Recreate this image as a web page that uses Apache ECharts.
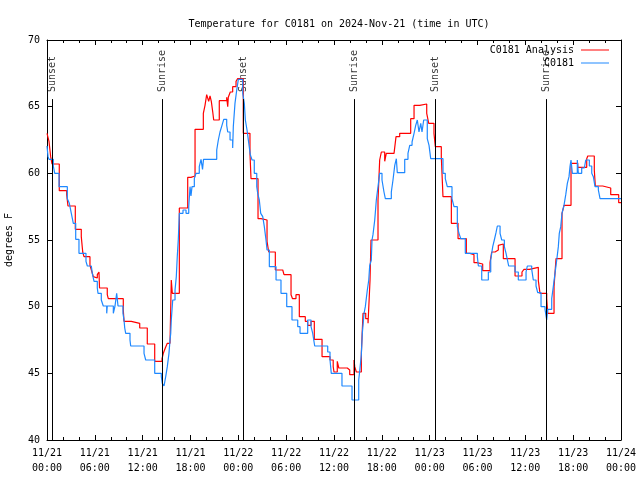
<!DOCTYPE html>
<html>
<head>
<meta charset="utf-8">
<script src="https://cdn.jsdelivr.net/npm/echarts@6/dist/echarts.min.js"></script>
<style>html,body{margin:0;padding:0;background:#fff}#c{width:640px;height:480px}</style>
</head>
<body>
<div id="c"></div>
<script>
// Time is in hours after 2024-11-21 00:00 UTC
const tickDates = ['11/21','11/21','11/21','11/21','11/22','11/22','11/22','11/22','11/23','11/23','11/23','11/23','11/24'];
const tickTimes = ['00:00','06:00','12:00','18:00','00:00','06:00','12:00','18:00','00:00','06:00','12:00','18:00','00:00'];

const sunHours = [0.66, 14.46, 24.62, 38.55, 48.67, 62.63];
const sunNames = ['Sunset','Sunrise','Sunset','Sunrise','Sunset','Sunrise'];
const sunLineTop = 65.57;

// C0181 Analysis (red)
const analysisHours = [
 0,0.25,0.46,0.63,1.54,2.47,2.63,3.55,4.30,4.48,
 4.64,5.39,5.64,5.81,5.98,6.31,6.52,6.59,7.56,7.69,
 9.57,9.66,10.57,11.63,12.58,13.51,14.43,14.59,14.84,15.09,
 15.43,15.59,15.72,16.60,17.65,18.06,18.57,19.61,19.82,20.03,
 20.28,20.45,20.61,20.79,20.91,21.61,22.54,22.67,22.74,22.99,
 23.29,23.71,23.92,24.62,25.46,25.59,26.47,26.84,27.60,27.81,
 28.64,29.57,29.73,30.61,30.80,31.23,31.65,32.40,32.70,33.12,
 33.53,34.50,35.50,35.90,36.00,36.41,36.60,37.67,37.97,38.51,
 38.60,38.80,39.43,39.64,39.98,40.27,40.52,40.64,41.52,41.73,
 41.94,42.36,42.56,43.53,43.78,44.24,45.62,46.04,46.75,47.63,
 47.88,48.54,48.71,49.46,49.60,49.67,50.72,51.56,52.60,53.06,
 53.56,53.90,54.65,55.57,55.78,56.20,56.61,56.74,57.24,58.71,
 59.58,59.83,60.50,61.63,61.84,62.68,62.81,63.60,63.85,64.60,
 64.85,65.73,66.57,67.70,67.83,68.65,68.78,69.71,70.71,71.71,
 72
];
const analysisTemps = [
 63.0,62.4,61.25,60.7,58.7,58.4,57.55,55.8,55.25,54.1,
 53.75,53.1,52.6,52.25,52.15,52.4,52.6,51.4,50.9,50.6,
 49.75,48.9,48.75,48.4,47.2,45.9,46.1,46.5,46.9,47.25,
 47.1,52.0,51.0,57.4,59.7,59.8,63.3,64.5,65.1,65.9,
 65.4,65.8,65.4,64.6,64.0,65.45,65.7,65.0,65.7,66.1,
 66.5,66.9,67.1,63.0,61.5,59.6,56.6,56.5,54.9,54.1,
 52.75,52.6,52.4,50.9,50.6,50.9,49.25,48.9,48.6,48.9,
 47.55,46.25,46.0,45.5,45.1,45.9,45.4,45.25,44.9,46.0,
 45.5,45.1,46.5,49.5,49.1,48.75,52.0,55.0,58.0,61.0,
 61.6,60.9,61.5,61.6,62.75,63.0,64.1,65.1,65.2,64.5,
 63.75,63.0,62.0,61.25,59.25,58.25,56.25,55.1,54.0,53.9,
 53.3,53.2,52.7,53.3,54.1,54.25,54.6,54.7,53.6,52.3,
 52.6,52.8,52.95,51.95,51.0,50.6,49.5,51.5,53.6,57.0,
 57.6,60.75,60.45,61.1,61.3,60.25,59.05,58.9,58.4,57.8,
 57.8
];

// C0181 observations (blue)
const obsHours = [
 0,0.13,0.25,0.79,0.97,1.51,2.55,2.80,3.05,3.30,
 3.60,4.01,4.89,5.06,5.56,5.68,5.90,6.31,6.40,6.81,
 7.06,7.49,7.56,8.32,8.53,8.74,8.91,9.53,9.66,9.75,
 9.87,10.41,10.50,12.17,12.38,13.51,14.34,14.46,14.68,14.89,
 15.09,15.30,15.43,15.52,15.59,15.77,16.06,16.22,16.34,16.47,
 16.60,17.06,17.44,17.78,17.94,18.06,18.19,18.48,18.69,19.10,
 19.32,19.51,19.63,21.29,21.49,21.70,21.95,22.17,22.54,22.67,
 22.96,23.29,23.37,23.58,23.80,24.00,24.55,24.75,24.88,25.09,
 25.30,25.50,25.72,26.00,26.31,26.43,26.63,26.81,27.06,27.26,
 27.47,27.60,27.89,28.73,29.35,30.07,30.73,31.45,31.74,32.70,
 33.12,33.33,33.58,35.21,35.50,35.66,37.00,38.26,39.10,39.23,
 39.43,39.55,39.77,39.93,40.18,40.36,40.48,40.68,40.77,40.89,
 41.11,41.31,41.52,41.73,42.02,42.27,42.44,43.19,43.40,43.62,
 43.82,43.94,44.87,45.28,45.50,45.79,46.04,46.25,46.45,46.66,
 46.88,47.04,47.25,47.70,47.92,48.13,49.67,49.96,50.21,50.80,
 51.05,51.47,51.68,51.90,52.47,53.98,54.11,54.53,55.36,55.66,
 55.91,56.11,56.32,56.49,56.83,57.04,57.37,57.58,57.79,57.91,
 58.71,59.12,60.09,60.25,60.80,61.00,61.34,61.55,61.97,62.47,
 62.68,62.81,63.31,63.51,63.72,63.94,64.14,64.26,64.44,64.60,
 64.85,65.07,65.27,65.48,65.61,65.73,65.90,66.52,66.65,67.07,
 67.40,67.58,68.03,68.33,68.53,68.74,69.16,69.37,72
];
const obsTemps = [
 62.05,61.25,61.05,60.55,60.0,59.0,58.1,57.75,57.0,56.25,
 55.05,54.0,53.4,53.05,52.9,52.5,51.9,51.4,51.0,50.5,
 50.05,49.5,50.05,49.5,50.05,51.0,50.05,49.5,49.0,48.4,
 48.0,47.5,47.05,46.5,46.0,45.0,44.75,44.25,44.05,44.75,
 45.5,46.5,47.5,48.0,49.0,50.5,51.25,52.25,53.75,55.05,
 57.0,57.25,57.0,57.5,59.0,58.3,59.0,59.6,60.0,60.5,
 61.05,60.3,61.05,61.75,62.5,63.1,63.6,64.05,63.6,63.1,
 62.5,61.9,63.5,65.25,66.25,67.05,66.0,65.25,64.0,63.25,
 62.3,61.4,61.0,60.0,59.0,58.5,58.0,57.0,56.75,56.0,
 55.0,54.25,53.0,52.0,51.0,50.0,49.0,48.5,48.0,49.0,
 48.5,48.0,47.05,46.6,46.0,45.0,44.05,43.0,44.5,45.2,
 46.4,48.0,49.5,50.0,51.25,52.0,53.1,53.5,55.0,55.4,
 56.5,58.0,59.0,60.0,59.5,58.6,58.1,58.6,59.5,60.6,
 61.1,60.05,61.05,61.5,62.1,62.35,63.0,63.6,64.0,63.1,
 63.75,63.1,64.0,62.6,62.1,61.1,60.0,59.6,59.0,58.1,
 57.5,56.0,55.5,55.1,54.0,53.75,53.05,52.0,52.6,53.5,
 54.5,55.0,55.55,56.05,55.5,55.0,54.5,54.0,53.4,53.05,
 52.6,52.0,52.6,53.05,52.8,52.0,51.55,51.05,50.0,49.8,
 49.0,49.8,50.6,51.5,52.5,53.5,54.5,55.5,56.0,57.0,
 57.6,58.4,59.25,59.75,60.55,61.0,60.0,61.0,60.0,60.4,
 60.55,61.0,60.55,60.0,59.75,59.0,58.75,58.1,58.1
];

const FONT = 'DejaVu Sans Mono';
const pairs = (xs, ys) => xs.map((x, i) => [x, ys[i]]);

const chart = echarts.init(document.getElementById('c'), null, {renderer: 'canvas'});

const xCommon = {
  type: 'value', min: 0, max: 72, interval: 6,
  axisLine: {show: true, onZero: false, lineStyle: {color: '#000', width: 1}},
  axisTick: {show: true, inside: true, length: 5, lineStyle: {color: '#000'}},
  minorTick: {show: true, splitNumber: 3, length: 3, lineStyle: {color: '#000'}},
  splitLine: {show: false}
};
const yCommon = {
  type: 'value', min: 40, max: 70, interval: 5,
  axisLine: {show: true, onZero: false, lineStyle: {color: '#000', width: 1}},
  axisTick: {show: true, inside: true, length: 5, lineStyle: {color: '#000'}},
  splitLine: {show: false}
};

chart.setOption({
  animation: false,
  backgroundColor: '#fff',
  title: {
    text: 'Temperature for C0181 on 2024-Nov-21 (time in UTC)',
    left: 334, top: 14, textAlign: 'center',
    textStyle: {fontFamily: FONT, fontSize: 10, fontWeight: 'normal', color: '#000'}
  },
  legend: [
    {data: ['C0181 Analysis'], right: 31, top: 44, orient: 'vertical', align: 'right', padding: 0,
     icon: 'rect', itemWidth: 28, itemHeight: 1, itemGap: 0,
     textStyle: {fontFamily: FONT, fontSize: 10, color: '#000', lineHeight: 12, padding: [0, 2, 0, 0]}},
    {data: ['C0181'], right: 31, top: 57, orient: 'vertical', align: 'right', padding: 0,
     icon: 'rect', itemWidth: 28, itemHeight: 1, itemGap: 0,
     textStyle: {fontFamily: FONT, fontSize: 10, color: '#000', lineHeight: 12, padding: [0, 2, 0, 0]}}
  ],
  grid: {left: 47, right: 19, top: 40, bottom: 40, containLabel: false, outerBoundsMode: 'none'},
  xAxis: [
    Object.assign({}, xCommon, {
      position: 'bottom',
      axisLabel: {
        margin: 6, fontFamily: FONT, fontSize: 10, color: '#000', lineHeight: 15,
        formatter: v => { const i = Math.round(v / 6); return tickDates[i] + '\n' + tickTimes[i]; }
      }
    }),
    Object.assign({}, xCommon, {position: 'top', axisLabel: {show: false}})
  ],
  yAxis: [
    Object.assign({}, yCommon, {
      position: 'left',
      name: 'degrees F', nameLocation: 'middle', nameGap: 33, nameRotate: 90,
      nameTextStyle: {fontFamily: FONT, fontSize: 10, color: '#000'},
      axisLabel: {margin: 7, fontFamily: FONT, fontSize: 10, color: '#000'}
    }),
    Object.assign({}, yCommon, {position: 'right', axisLabel: {show: false}})
  ],
  series: [
    {
      name: 'sun', type: 'scatter', xAxisIndex: 0, yAxisIndex: 0,
      symbolSize: 0, silent: true,
      data: sunHours.map((h, i) => ({value: [h, sunLineTop], name: sunNames[i]})),
      label: {
        show: true, position: 'top', distance: 7, rotate: 90,
        align: 'left', verticalAlign: 'middle',
        formatter: p => p.name,
        fontFamily: FONT, fontSize: 10, color: '#000'
      },
      markLine: {
        silent: true, symbol: 'none', animation: false,
        label: {show: false},
        lineStyle: {color: '#000', width: 1, type: 'solid'},
        data: sunHours.map(h => [{coord: [h, sunLineTop]}, {coord: [h, 40]}])
      }
    },
    {
      name: 'C0181 Analysis', type: 'line', step: 'end', xAxisIndex: 0, yAxisIndex: 0,
      showSymbol: false, symbol: 'none',
      data: pairs(analysisHours, analysisTemps),
      lineStyle: {color: '#ff0000', width: 1.2},
      itemStyle: {color: '#ff0000'}
    },
    {
      name: 'C0181', type: 'line', step: 'end', xAxisIndex: 0, yAxisIndex: 0,
      showSymbol: false, symbol: 'none',
      data: pairs(obsHours, obsTemps),
      lineStyle: {color: '#1e88ff', width: 1.2},
      itemStyle: {color: '#1e88ff'}
    }
  ]
});
</script>
</body>
</html>
